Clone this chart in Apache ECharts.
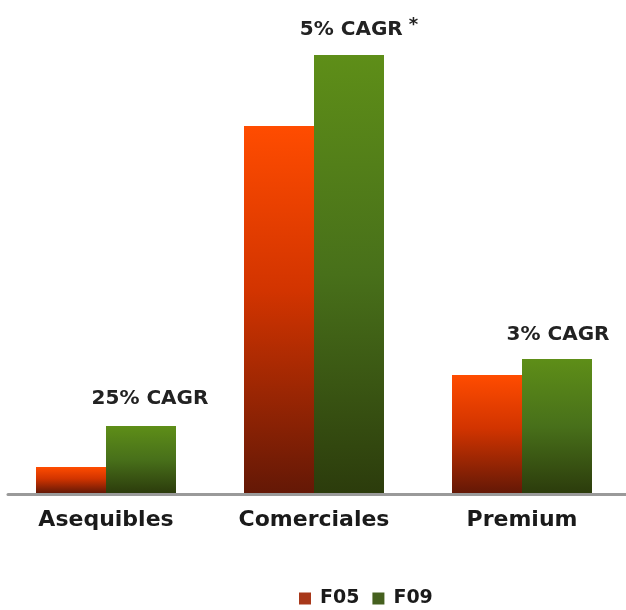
<!DOCTYPE html>
<html>
<head>
<meta charset="utf-8">
<script src="https://cdn.jsdelivr.net/npm/echarts@6/dist/echarts.min.js"></script>
<style>html,body{margin:0;padding:0;background:#fff;}#c{width:626px;height:610px;}</style>
</head>
<body>
<div id="c"></div>
<script>
const categories = ['Asequibles', 'Comerciales', 'Premium'];
const seriesNames = ['F05', 'F09'];
const f05Values = [26, 367, 118];
const f09Values = [67, 438, 134];
const cagrLabels = ['25% CAGR', '5% CAGR', '3% CAGR'];
const cagrStar = [false, true, false];

const chart = echarts.init(document.getElementById('c'));
const orangeGrad = new echarts.graphic.LinearGradient(0, 0, 0, 1, [
  {offset: 0, color: '#ff4c00'},
  {offset: 0.45, color: '#d23400'},
  {offset: 1, color: '#641806'}
]);
const greenGrad = new echarts.graphic.LinearGradient(0, 0, 0, 1, [
  {offset: 0, color: '#5e8e18'},
  {offset: 0.5, color: '#48701a'},
  {offset: 1, color: '#2c3c0c'}
]);
const labelOffsets = [[9, -1], [10, 5], [1, 2]];
chart.setOption({
  backgroundColor: '#ffffff',
  animation: false,
  grid: [
    {left: 2, width: 630, top: 55, bottom: 117},
    {left: 8, right: 0, top: 55, bottom: 115.5}
  ],
  legend: {
    data: [
      {name: seriesNames[0], itemStyle: {color: '#a8381a'}},
      {name: seriesNames[1], itemStyle: {color: '#45601e'}}
    ],
    left: 294, top: 584,
    icon: 'rect', itemWidth: 12, itemHeight: 12, itemGap: 13,
    textStyle: {fontFamily: 'DejaVu Sans', fontWeight: 'bold', fontSize: 19, color: '#1a1a1a', padding: [0, 0, 0, 4]}
  },
  xAxis: [
    {
      type: 'category', data: categories, gridIndex: 0,
      axisLine: {show: false}, axisTick: {show: false},
      axisLabel: {fontFamily: 'DejaVu Sans', fontWeight: 'bold', fontSize: 22, color: '#1a1a1a', margin: 16}
    },
    {
      type: 'category', data: categories, gridIndex: 1,
      axisLine: {show: true, lineStyle: {color: '#9a9a9a', width: 3}},
      axisTick: {show: false}, axisLabel: {show: false}
    }
  ],
  yAxis: [
    {type: 'value', min: 0, max: 438, gridIndex: 0, show: false},
    {type: 'value', min: 0, max: 438, gridIndex: 1, show: false}
  ],
  series: [
    {
      name: seriesNames[0], type: 'bar', data: f05Values, barWidth: 70, barGap: '0%',
      itemStyle: {color: orangeGrad}
    },
    {
      name: seriesNames[1], type: 'bar', data: f09Values.map((v, i) => ({
        value: v,
        label: {offset: labelOffsets[i]}
      })), barWidth: 70,
      itemStyle: {color: greenGrad},
      label: {
        show: true, position: 'top', distance: 16,
        formatter: p => cagrStar[p.dataIndex] ? '{a|' + cagrLabels[p.dataIndex] + '}{s|*}' : '{a|' + cagrLabels[p.dataIndex] + '}',
        rich: {
          a: {fontFamily: 'DejaVu Sans', fontWeight: 'bold', fontSize: 20, color: '#222'},
          s: {fontFamily: 'DejaVu Sans', fontWeight: 'bold', fontSize: 18, color: '#222', verticalAlign: 'top', padding: [0, 0, 10, 6]}
        }
      }
    }
  ]
});
</script>
</body>
</html>
